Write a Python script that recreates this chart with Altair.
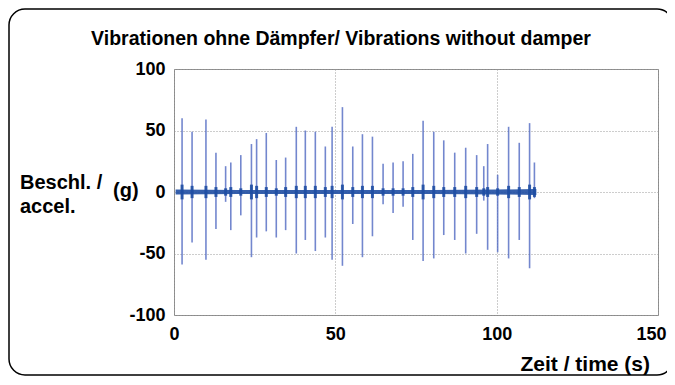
import altair as alt
import pandas as pd

# spike events (time in s, peak values in g)
spike_t = [2.5, 5.6, 9.9, 13.0, 16.0, 17.6, 20.7, 24.0, 25.6, 28.6, 31.7, 34.6, 37.9,
           40.7, 43.8, 46.9, 49.0, 52.2, 55.4, 58.4, 61.5, 64.8, 67.9, 71.0, 74.0,
           77.2, 80.5, 83.6, 87.0, 90.4, 93.8, 96.0, 97.2, 100.3, 103.7, 107.0, 110.2, 111.7]
spike_top = [60, 49, 59, 32, 21, 24, 30, 39, 43, 48, 26, 28, 53,
             50, 49, 37, 53, 69, 37, 47, 45, 23, 24, 25, 31,
             58, 49, 42, 32, 36, 30, 21, 39, 14, 53, 40, 56, 24]
spike_bot = [-59, -41, -55, -30, -8, -31, -19, -53, -37, -32, -37, -31, -50,
             -39, -48, -37, -55, -60, -26, -53, -36, -10, -17, -12, -39,
             -56, -54, -35, -39, -50, -34, -7, -47, -49, -54, -39, -62, -5]
burst = [6, 5, 5, 4, 3, 4, 3, 6, 5, 4, 3, 4, 5,
         5, 5, 4, 5, 6, 4, 5, 5, 3, 3, 3, 4,
         6, 5, 4, 4, 5, 4, 3, 4, 3, 5, 4, 6, 4]

# background noise envelope (half-width in g)
env_t = [0.5, 20, 40, 60, 80, 100, 112.3]
env_a = [2.0, 1.6, 1.6, 1.6, 1.6, 2.0, 2.4]

x_ticks = [0, 50, 100, 150]
y_ticks = [-100, -50, 0, 50, 100]

title_text = "Vibrationen ohne Dämpfer/ Vibrations without damper"
ytitle_1 = "Beschl. /"
ytitle_2 = "accel."
yunit = "(g)"
xtitle = "Zeit / time  (s)"

spikes = pd.DataFrame({"t": spike_t, "top": spike_top, "bot": spike_bot, "b": burst})
spikes["nb"] = -spikes["b"]
env = pd.DataFrame({"t": env_t, "hi": env_a})
env["lo"] = -env["hi"]
one = pd.DataFrame({"k": [0]})

FONT = "Liberation Sans"
DARK = "#1f4ea3"
LIGHT = "#5069c2"
W, H = 484, 246

xs = alt.Scale(domain=[0, 150], nice=False, zero=False)
ys = alt.Scale(domain=[-100, 100], nice=False)

common = dict(title=None, labelFont=FONT, labelFontSize=18, labelFontWeight="bold",
              labelColor="black", domain=False, ticks=False, grid=True,
              gridColor="#9a9a9a", gridDash=[1, 2], gridWidth=1, labelFlush=False,
              labelExpr="'' + datum.value")
xaxis = alt.Axis(values=x_ticks, labelPadding=10,
                 labelOffset={"condition": {"test": "datum.value == 150", "value": -7}, "value": 0},
                 **common)
yaxis = alt.Axis(values=y_ticks, labelPadding=9, **common)

spike_layer = alt.Chart(spikes).mark_rule(color=LIGHT, strokeWidth=1.6, opacity=0.8).encode(
    x=alt.X("t:Q", scale=xs, axis=xaxis),
    y=alt.Y("bot:Q", scale=ys, axis=yaxis),
    y2="top:Q",
)
band_layer = alt.Chart(env).mark_area(color=DARK, opacity=0.9).encode(
    x=alt.X("t:Q", scale=xs),
    y=alt.Y("lo:Q", scale=ys),
    y2="hi:Q",
)
burst_layer = alt.Chart(spikes).mark_rule(color=DARK, strokeWidth=3, opacity=0.9).encode(
    x=alt.X("t:Q", scale=xs),
    y=alt.Y("nb:Q", scale=ys),
    y2="b:Q",
)

frame = alt.Chart(one).mark_rect(fill="white", fillOpacity=0, stroke="black",
                                 strokeWidth=1.5, cornerRadius=16).encode(
    x=alt.value(-165), x2=alt.value(499), y=alt.value(-60), y2=alt.value(306)
)


def label(txt, x, y, size, align="left"):
    return alt.Chart(one).mark_text(align=align, baseline="alphabetic", font=FONT,
                                    fontSize=size, fontWeight="bold", color="black").encode(
        x=alt.value(x), y=alt.value(y), text=alt.value(txt)
    )


texts = [
    label(title_text, 167, -24, 19.5, "center"),
    label(ytitle_1, -154, 120, 20),
    label(ytitle_2, -154, 144, 20),
    label(yunit, -61, 128, 20),
    label(xtitle, 476, 302, 21, "right"),
]

chart = alt.layer(frame, spike_layer, band_layer, burst_layer, *texts).properties(
    width=W, height=H,
    padding={"left": 166, "top": 61, "right": 9, "bottom": 61},
    autosize=alt.AutoSizeParams(type="none"),
    background="white",
).configure_view(stroke="#8a8a8a", strokeWidth=1)

chart.save("out.html", embed_options={"renderer": "svg", "actions": False})
